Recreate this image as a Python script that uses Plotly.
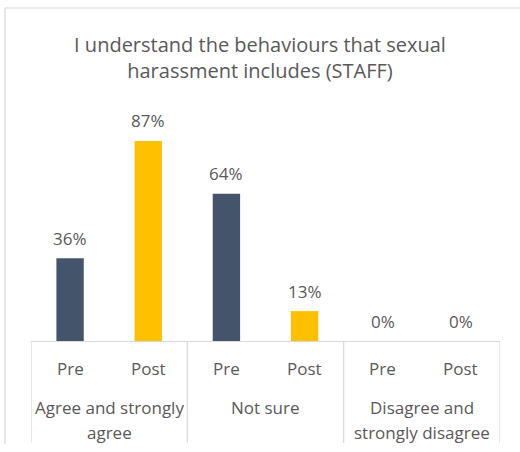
import plotly.graph_objects as go

# Survey answers, staff, before and after the session
groups = [["Agree and strongly", "agree"], ["Not sure"], ["Disagree and", "strongly disagree"]]
phases = ["Pre", "Post"]
pre_values = [36, 64, 0]
post_values = [87, 13, 0]

TEXT = "#595959"
RULE = "#D9D9D9"
FRAME = "#E2E2E2"
PRE_COLOR = "#44546A"
POST_COLOR = "#FFC000"
FONT = "Open Sans"

# Plot box in pixels (520 x 452 canvas)
W, H = 520, 452
ML, MR, MT, MB = 31, 20, 111, 111
PW, PH = W - ML - MR, H - MT - MB


def px_x(px):
    return (px - ML) / PW


def px_y(py):
    return (H - MB - py) / PH


positions, values, colors, labels = [], [], [], []
for gi, (pre, post) in enumerate(zip(pre_values, post_values)):
    for pi, (val, col) in enumerate(zip((pre, post), (PRE_COLOR, POST_COLOR))):
        positions.append(gi * len(phases) + pi)
        values.append(val)
        colors.append(col)
        labels.append(phases[pi])

fig = go.Figure(
    go.Bar(
        x=positions,
        y=values,
        width=0.35,
        marker=dict(color=colors, line=dict(width=0)),
        hoverinfo="skip",
    )
)

annotations = []
# value labels above bars
for x, v in zip(positions, values):
    annotations.append(dict(
        x=x, y=v, xref="x", yref="y", text=f"{v}%", showarrow=False,
        yanchor="middle", yshift=20,
        font=dict(family=FONT, size=17, color=TEXT),
    ))
# Pre / Post row
for x, lab in zip(positions, labels):
    annotations.append(dict(
        x=x, y=0, xref="x", yref="paper", text=lab, showarrow=False,
        yanchor="middle", yshift=-27,
        font=dict(family=FONT, size=17, color=TEXT),
    ))
# group names, one annotation per line
n = len(phases)
for gi, lines in enumerate(groups):
    cx = gi * n + (n - 1) / 2
    for li, line in enumerate(lines):
        annotations.append(dict(
            x=cx, y=0, xref="x", yref="paper", text=line, showarrow=False,
            yanchor="middle", yshift=-66 - 25 * li,
            font=dict(family=FONT, size=17, color=TEXT),
        ))

shapes = []
# category table dividers
for gi in range(len(groups) + 1):
    xd = gi * n - 0.5
    shapes.append(dict(
        type="line", xref="x", yref="paper", x0=xd, x1=xd,
        y0=0, y1=px_y(443), line=dict(color=RULE, width=1.2),
    ))
# outer chart frame (top and left edges)
shapes.append(dict(
    type="line", xref="paper", yref="paper",
    x0=px_x(5), x1=px_x(W + 5), y0=px_y(8), y1=px_y(8),
    line=dict(color=FRAME, width=1.6),
))
shapes.append(dict(
    type="line", xref="paper", yref="paper",
    x0=px_x(5), x1=px_x(5), y0=px_y(8), y1=px_y(444),
    line=dict(color=FRAME, width=1.6),
))

fig.update_layout(
    width=W,
    height=H,
    margin=dict(l=ML, r=MR, t=MT, b=MB),
    paper_bgcolor="white",
    plot_bgcolor="white",
    showlegend=False,
    font=dict(family=FONT, color=TEXT),
    title=dict(
        text="I understand the behaviours that sexual<br>harassment includes (STAFF)",
        x=0.5,
        xanchor="center",
        y=1 - 52 / H,
        yanchor="middle",
        font=dict(family=FONT, size=20, color=TEXT),
    ),
    xaxis=dict(
        range=[-0.5, len(positions) - 0.5],
        showline=True,
        linecolor=RULE,
        linewidth=1.2,
        showticklabels=False,
        ticks="",
        showgrid=False,
        zeroline=False,
    ),
    yaxis=dict(
        range=[0, 100],
        visible=False,
        showgrid=False,
        zeroline=False,
    ),
    annotations=annotations,
    shapes=shapes,
)

fig.write_html("out.html")
